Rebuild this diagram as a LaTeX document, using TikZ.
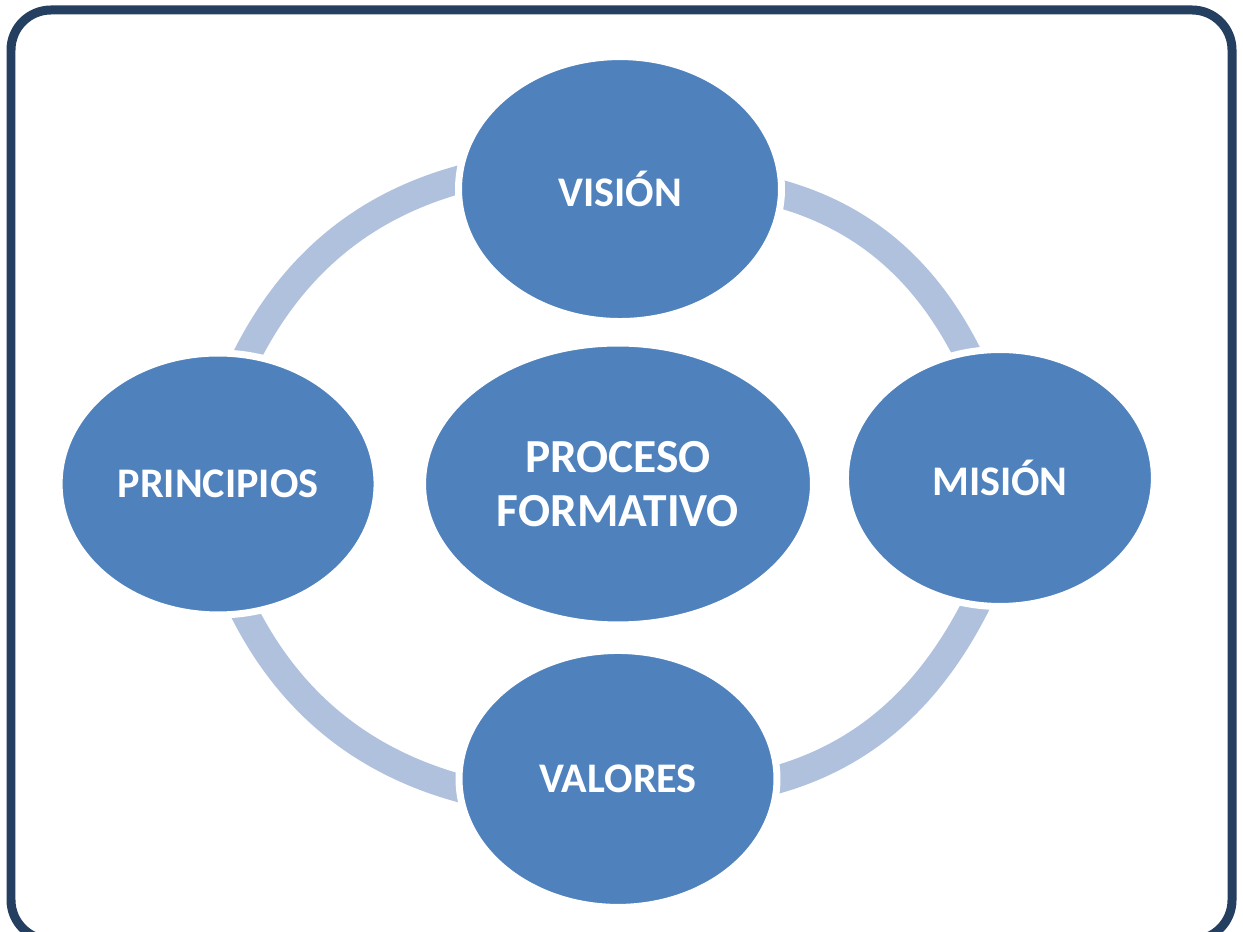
\documentclass[tikz,border=0pt]{standalone}
\usepackage{fontspec}
\setmainfont{Carlito}
\usetikzlibrary{shapes.geometric, % 椭圆
  positioning,                    % 相对地放置节点
  backgrounds}                    % 背景层
\definecolor{stageblue}{RGB}{79,129,189}
\definecolor{ringblue}{RGB}{176,193,222}
\definecolor{framenavy}{RGB}{36,63,96}

\begin{document}
\begin{tikzpicture}[x=0.02cm,y=0.02cm,node distance=5.9cm,on grid,
  % 全局: 节点中心间距 5.9cm, on grid
  stage/.style={ellipse,fill=stageblue,draw=white,line width=0.14cm,inner sep=0pt,
    text=white,align=center,font=\fontsize{24}{30}\selectfont\bfseries},
  % 外圈弧: 两端伸进椭圆, 由椭圆的白边盖住
  ring/.style={draw=ringblue,line width=0.56cm,looseness=0.9,
    shorten <=-0.3cm,shorten >=-0.3cm},
  frame/.style={draw=framenavy,line width=0.18cm,rounded corners=0.8cm}]

  \path[use as bounding box] (0,0) rectangle (1243,932);
  \clip (0,0) rectangle (1243,932);

  \draw[frame] (11,922) rectangle (1232,-8);

  % 中间和四周的椭圆
  \node[stage,minimum width=7.82cm,minimum height=5.64cm,
    font=\fontsize{27}{31}\selectfont\bfseries] (proc) at (618,448) {PROCESO\\FORMATIVO};
  \node[stage,minimum width=6.46cm,minimum height=5.3cm] (vision) [above=of proc,xshift=0.04cm] {VISIÓN};
  \node[stage,minimum width=6.18cm,minimum height=5.14cm] (mision) [right=7.64cm of proc,yshift=0.12cm] {MISIÓN};
  \node[stage,minimum width=6.36cm,minimum height=5.14cm] (valores) [below=of proc] {VALORES};
  \node[stage,minimum width=6.36cm,minimum height=5.24cm] (principios) [left=8cm of proc] {PRINCIPIOS};

  % 外圈的四段弧, 放在背景层
  \begin{scope}[on background layer]
    \draw[ring] (vision.177) to[out=194,in=64.4] (principios.77.8);
    \draw[ring] (vision.358) to[out=-14,in=115.6] (mision.105);
    \draw[ring] (mision.259) to[out=244.4,in=14] (valores.0);
    \draw[ring] (valores.183) to[out=166,in=295.6] (principios.282.5);
  \end{scope}

\end{tikzpicture}
\end{document}
